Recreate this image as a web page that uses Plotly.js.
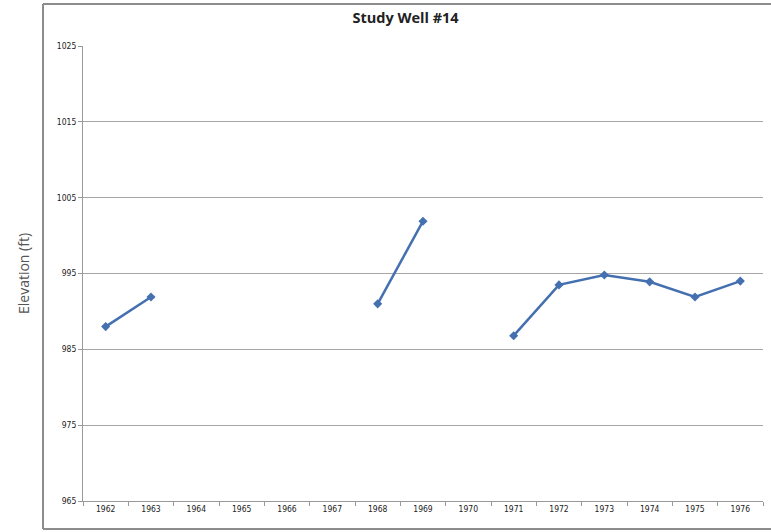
<!DOCTYPE html>
<html>
<head>
<meta charset="utf-8">
<script src="https://cdn.plot.ly/plotly-3.0.1.min.js"></script>
<style>html,body{margin:0;padding:0;background:#fff;}#chart{width:771px;height:532px;}</style>
</head>
<body>
<div id="chart"></div>
<script>
const years = ["1962","1963","1964","1965","1966","1967","1968","1969","1970","1971","1972","1973","1974","1975","1976"];
const elevation = [988.0, 991.9, null, null, null, null, 991.0, 1001.9, null, 986.8, 993.5, 994.8, 993.9, 991.9, 994.0];
const yTicks = [965, 975, 985, 995, 1005, 1015, 1025];

const trace = {
  x: years,
  y: elevation,
  type: 'scatter',
  mode: 'lines+markers',
  connectgaps: false,
  line: {color: '#4470b0', width: 2.5},
  marker: {symbol: 'diamond', size: 7, color: '#4470b0'},
  hoverinfo: 'x+y'
};

const frameLine = {color: '#8c8c8c', width: 2};
const fx0 = -0.0588, fx1 = 1.02, fy0 = -0.0615, fy1 = 1.0923;

const layout = {
  width: 771, height: 532,
  margin: {l: 83, r: 8, t: 46, b: 31},
  paper_bgcolor: '#fff', plot_bgcolor: '#fff',
  showlegend: false,
  title: {text: '<b>Study Well #14</b>', font: {family: 'Open Sans, Liberation Sans, sans-serif', size: 14.5, color: '#222'},
          xref: 'container', x: 0.526, xanchor: 'center', yref: 'container', y: 0.966, yanchor: 'middle'},
  xaxis: {
    type: 'category', categoryorder: 'array', categoryarray: years,
    tickson: 'boundaries', ticks: 'outside', ticklen: 4, tickcolor: '#999',
    showline: true, linecolor: '#999', linewidth: 1, showgrid: false, zeroline: false,
    tickfont: {family: 'Liberation Sans Narrow, DejaVu Sans Condensed, Liberation Sans, sans-serif', size: 8.5, color: '#222'},
    range: [-0.5, 14.5], fixedrange: true
  },
  yaxis: {
    range: [965, 1025], tickvals: yTicks, ticktext: yTicks.map(String),
    ticks: 'outside', ticklen: 4, tickcolor: '#999',
    showline: true, linecolor: '#999', linewidth: 1,
    showgrid: true, gridcolor: '#a6a6a6', gridwidth: 1, zeroline: false,
    tickfont: {family: 'Liberation Sans Narrow, DejaVu Sans Condensed, Liberation Sans, sans-serif', size: 8.5, color: '#222'},
    title: {text: 'Elevation (ft)', font: {family: 'Open Sans, Liberation Sans, sans-serif', size: 14, color: '#555'}, standoff: 23},
    fixedrange: true
  },
  shapes: [
    {type: 'line', xref: 'paper', yref: 'paper', x0: fx0, x1: fx0, y0: fy0, y1: fy1, line: frameLine, layer: 'below'},
    {type: 'line', xref: 'paper', yref: 'paper', x0: fx0, x1: fx1, y0: fy1, y1: fy1, line: frameLine, layer: 'below'},
    {type: 'line', xref: 'paper', yref: 'paper', x0: fx0, x1: fx1, y0: fy0, y1: fy0, line: frameLine, layer: 'below'}
  ]
};

Plotly.newPlot('chart', [trace], layout, {displayModeBar: false, staticPlot: true});
</script>
</body>
</html>
